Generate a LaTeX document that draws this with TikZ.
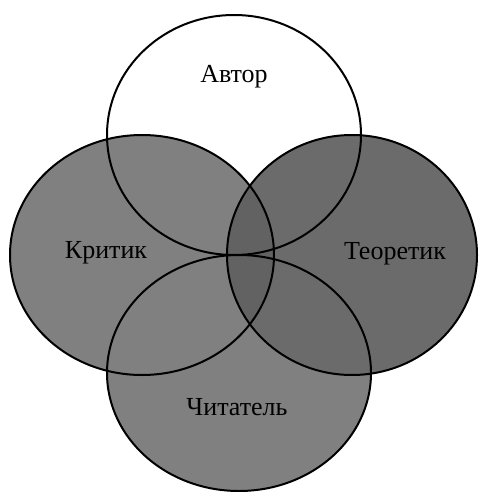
\documentclass[tikz,border=0pt]{standalone}
\definecolor{criticGray}{RGB}{128,128,128}
\definecolor{theoryGray}{RGB}{107,107,107}
\definecolor{lensGray}{RGB}{98,98,98}
\usepackage{fontspec}
\setmainfont{Liberation Serif}
\usepackage{tikz}
\usetikzlibrary{positioning}

\begin{document}
\begin{tikzpicture}[x=0.5pt, y=0.5pt, every node/.style={font=\fontsize{13}{15}\selectfont, anchor=base}, ring/.style={draw=black, line width=1pt}]
  \useasboundingbox (0,0) rectangle (478,-492);
  % fills
  \fill[white] (234,-135) ellipse [x radius=127, y radius=120];
  \fill[criticGray] (142,-255) ellipse [x radius=132, y radius=120];
  \fill[criticGray] (239,-373) ellipse [x radius=132, y radius=118];
  \fill[theoryGray] (352,-255) ellipse [x radius=125, y radius=120];
  \begin{scope}
    \clip (142,-255) ellipse [x radius=132, y radius=120];
    \fill[lensGray] (352,-255) ellipse [x radius=125, y radius=120];
  \end{scope}
  % outlines
  \draw[ring] (234,-135) ellipse [x radius=127, y radius=120];
  \draw[ring] (142,-255) ellipse [x radius=132, y radius=120];
  \draw[ring] (352,-255) ellipse [x radius=125, y radius=120];
  \draw[ring] (239,-373) ellipse [x radius=132, y radius=118];
  % labels
  \node (author) at (234,-83) {Автор};
  \node (critic) at (106,-258) {Критик};
  \node (theorist) at (395,-259) {Теоретик};
  \node (reader) at (237,-415) {Читатель};
\end{tikzpicture}
\end{document}
